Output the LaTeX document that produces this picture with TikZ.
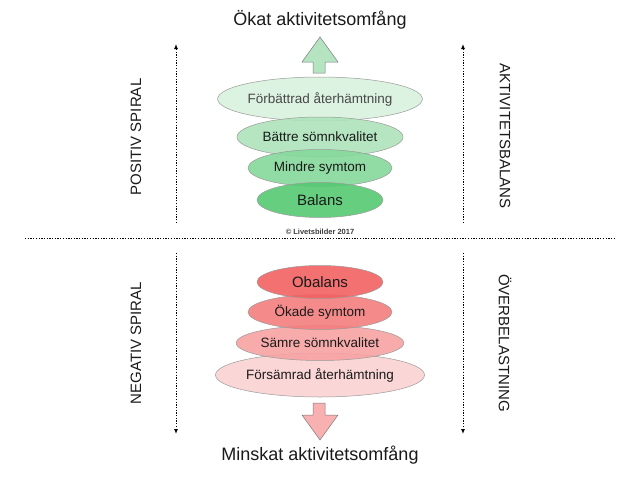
\documentclass[tikz,border=0pt]{standalone}
\usepackage{fontspec}
\setmainfont{Liberation Sans}
\usetikzlibrary{shapes.geometric,arrows.meta}
\definecolor{txt}{HTML}{1A1A1A}
\definecolor{edge}{HTML}{9A9A9A}
\definecolor{gA}{HTML}{DAF2DE}
\definecolor{gB}{HTML}{ADE4BB}
\definecolor{gC}{HTML}{86D89B}
\definecolor{gD}{HTML}{55C972}
\definecolor{rA}{HTML}{F26262}
\definecolor{rB}{HTML}{F47E7E}
\definecolor{rC}{HTML}{F7A2A2}
\definecolor{rD}{HTML}{FAD2D2}
\definecolor{garrow}{HTML}{B5E5C0}
\definecolor{rarrow}{HTML}{F8B0B0}
\tikzset{
  oval/.style={ellipse, draw=edge, line width=0.5pt, inner sep=0pt, text=txt, fill opacity=0.9, text opacity=1},
  sidelabel/.style={text=txt, font=\fontsize{15}{15}\selectfont, inner sep=0pt},
  dotline/.style={line width=1pt, dash pattern=on 1.3pt off 1.4pt},
  dotarrow/.style={dotline, -{Latex[length=5pt,width=4pt]}},
  bigarrow/.style={draw=edge!80!black, line width=0.5pt},
  headline/.style={text=txt, font=\fontsize{18}{18}\selectfont, inner sep=0pt}
}
\begin{document}
\begin{tikzpicture}[x=1pt,y=-1pt]
\useasboundingbox (0,0) rectangle (640,480);
\fill[white] (0,0) rectangle (640,480);

% titles
\node[headline] (top) at (320,20) {Ökat aktivitetsomfång};
\node[headline] (bottom) at (320,455) {Minskat aktivitetsomfång};

% up arrow
\draw[bigarrow, fill=garrow] (313,73) -- (313,62) -- (302,62) -- (320,37) -- (338,62) -- (325,62) -- (325,73) -- cycle;

% top ellipses
\node[oval, fill=gA, minimum width=194, minimum height=44, font=\fontsize{13.5}{13.5}\selectfont, text=txt!80] (e1) at (320,99) {Förbättrad återhämtning};
\node[oval, fill=gB, minimum width=166, minimum height=40, font=\fontsize{13.5}{13.5}\selectfont] (e2) at (320,137) {Bättre sömnkvalitet};
\node[oval, fill=gC, minimum width=144, minimum height=37, font=\fontsize{13.5}{13.5}\selectfont] (e3) at (320,168) {Mindre symtom};
\node[oval, fill=gD, minimum width=126, minimum height=35, font=\fontsize{15}{15}\selectfont] (e4) at (320,200) {Balans};

% copyright
\node[text=txt!85, font=\fontsize{7.5}{7.5}\selectfont\bfseries, inner sep=0pt] (copy) at (320,232) {© Livetsbilder 2017};

% horizontal dotted divider
\coordinate (hl) at (25,238);
\coordinate (hr) at (614,238);
\draw[dotline] (hl) -- (hr);

% bottom ellipses
\node[oval, fill=rD, minimum width=194, minimum height=44, font=\fontsize{13.5}{13.5}\selectfont] (f4) at (320,375) {Försämrad återhämtning};
\node[oval, fill=rC, minimum width=166, minimum height=35, font=\fontsize{13.5}{13.5}\selectfont] (f3) at (320,343) {Sämre sömnkvalitet};
\node[oval, fill=rB, minimum width=144, minimum height=35, font=\fontsize{13.5}{13.5}\selectfont] (f2) at (320,312) {Ökade symtom};
\node[oval, fill=rA, minimum width=126, minimum height=33, font=\fontsize{15}{15}\selectfont] (f1) at (320,282) {Obalans};

% down arrow
\draw[bigarrow, fill=rarrow] (313,403) -- (325,403) -- (325,415) -- (338,415) -- (320,440) -- (302,415) -- (313,415) -- cycle;

% side arrows
\coordinate (lt1) at (176,223);
\coordinate (lt2) at (176,44);
\coordinate (rt1) at (463,223);
\coordinate (rt2) at (463,44);
\coordinate (lb1) at (176,253);
\coordinate (lb2) at (176,434);
\coordinate (rb1) at (463,253);
\coordinate (rb2) at (463,434);
\draw[dotarrow] (lt1) -- (lt2);
\draw[dotarrow] (rt1) -- (rt2);
\draw[dotarrow] (lb1) -- (lb2);
\draw[dotarrow] (rb1) -- (rb2);

% side labels
\node[sidelabel, rotate=90] (ps) at (136,137) {POSITIV SPIRAL};
\node[sidelabel, rotate=-90] (ab) at (505,136) {AKTIVITETSBALANS};
\node[sidelabel, rotate=90] (ns) at (136,343) {NEGATIV SPIRAL};
\node[sidelabel, rotate=-90] (ob) at (505,343) {ÖVERBELASTNING};
\end{tikzpicture}
\end{document}
